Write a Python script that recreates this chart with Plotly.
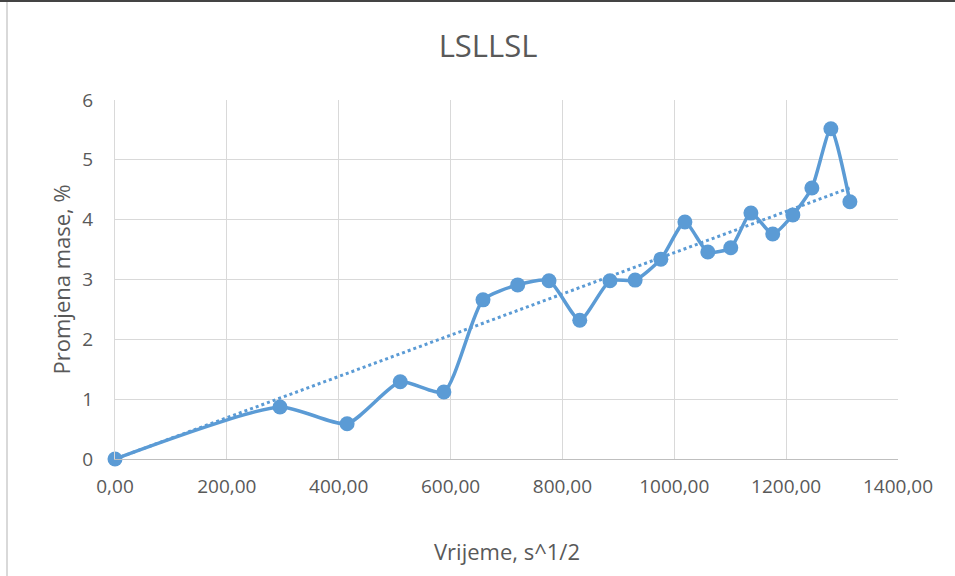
import numpy as np
import plotly.graph_objects as go

# Data
vrijeme = [0, 295, 415, 510, 588, 658, 720, 776, 831, 885, 930, 976,
           1019, 1060, 1101, 1137, 1176, 1212, 1246, 1280, 1314]
promjena = [0.00, 0.87, 0.59, 1.29, 1.12, 2.66, 2.91, 2.98, 2.32, 2.98, 2.99, 3.34,
            3.96, 3.46, 3.53, 4.11, 3.76, 4.08, 4.53, 5.52, 4.30]
x_ticks = [0, 200, 400, 600, 800, 1000, 1200, 1400]
x_ticktext = ["0,00", "200,00", "400,00", "600,00", "800,00", "1000,00", "1200,00", "1400,00"]
y_ticks = [0, 1, 2, 3, 4, 5, 6]

color = "#5B9BD5"
grey = "#595959"
font_family = "Open Sans, Liberation Sans, sans-serif"

# Linear trendline through the origin (least squares)
xa = np.array(vrijeme, dtype=float)
ya = np.array(promjena, dtype=float)
slope = float((xa * ya).sum() / (xa * xa).sum())
trend_x = [0.0, float(xa.max())]
trend_y = [slope * v for v in trend_x]

fig = go.Figure()
fig.add_trace(go.Scatter(
    x=trend_x, y=trend_y, mode="lines",
    line=dict(color=color, width=3, dash="dot"),
    showlegend=False, hoverinfo="skip"))
fig.add_trace(go.Scatter(
    x=vrijeme, y=promjena, mode="lines+markers",
    line=dict(color=color, width=3.5, shape="spline", smoothing=0.6),
    marker=dict(color=color, size=15),
    cliponaxis=False, showlegend=False))

L, R, T, B = 115, 57, 100, 117
W, H = 955, 576
pw, ph = W - L - R, H - T - B

def px_x(p):
    return (p - L) / pw

def px_y(p):
    return (H - B - p) / ph

fig.update_layout(
    width=W, height=H,
    margin=dict(l=L, r=R, t=T, b=B, pad=0),
    paper_bgcolor="white", plot_bgcolor="white",
    font=dict(family=font_family, color=grey),
    title=dict(text="LSLLSL", x=488 / W, xref="container", xanchor="center",
               y=1 - 46 / H, yref="container", yanchor="middle",
               font=dict(size=31, color=grey)),
    xaxis=dict(range=[0, 1400], tickvals=x_ticks, ticktext=x_ticktext,
               showgrid=True, gridcolor="#D9D9D9", gridwidth=1,
               zeroline=False, showline=True, linecolor="#BFBFBF", linewidth=1,
               ticks="", ticklabelstandoff=10, tickfont=dict(size=19, color=grey)),
    yaxis=dict(range=[0, 6], tickvals=y_ticks,
               showgrid=True, gridcolor="#D9D9D9", gridwidth=1,
               zeroline=False, showline=True, linecolor="#D9D9D9", linewidth=1,
               ticks="", ticklabelstandoff=17, tickfont=dict(size=19, color=grey)),
    annotations=[
        dict(text="Vrijeme, s^1/2", xref="paper", yref="paper",
             x=0.5, y=px_y(551), xanchor="center", yanchor="middle",
             showarrow=False, font=dict(size=22, color=grey)),
        dict(text="Promjena mase, %", xref="paper", yref="paper",
             x=px_x(60), y=0.5, xanchor="center", yanchor="middle", textangle=-90,
             showarrow=False, font=dict(size=22, color=grey)),
    ],
    shapes=[
        dict(type="line", xref="paper", yref="paper",
             x0=px_x(7), x1=px_x(7), y0=px_y(H), y1=px_y(0),
             line=dict(color="#D9D9D9", width=2)),
        dict(type="line", xref="paper", yref="paper",
             x0=px_x(0), x1=px_x(W), y0=px_y(1), y1=px_y(1),
             line=dict(color="#444444", width=2)),
    ],
)

fig.write_html("out.html", config={"displayModeBar": False},
               post_script="document.body.style.margin='0px';")
